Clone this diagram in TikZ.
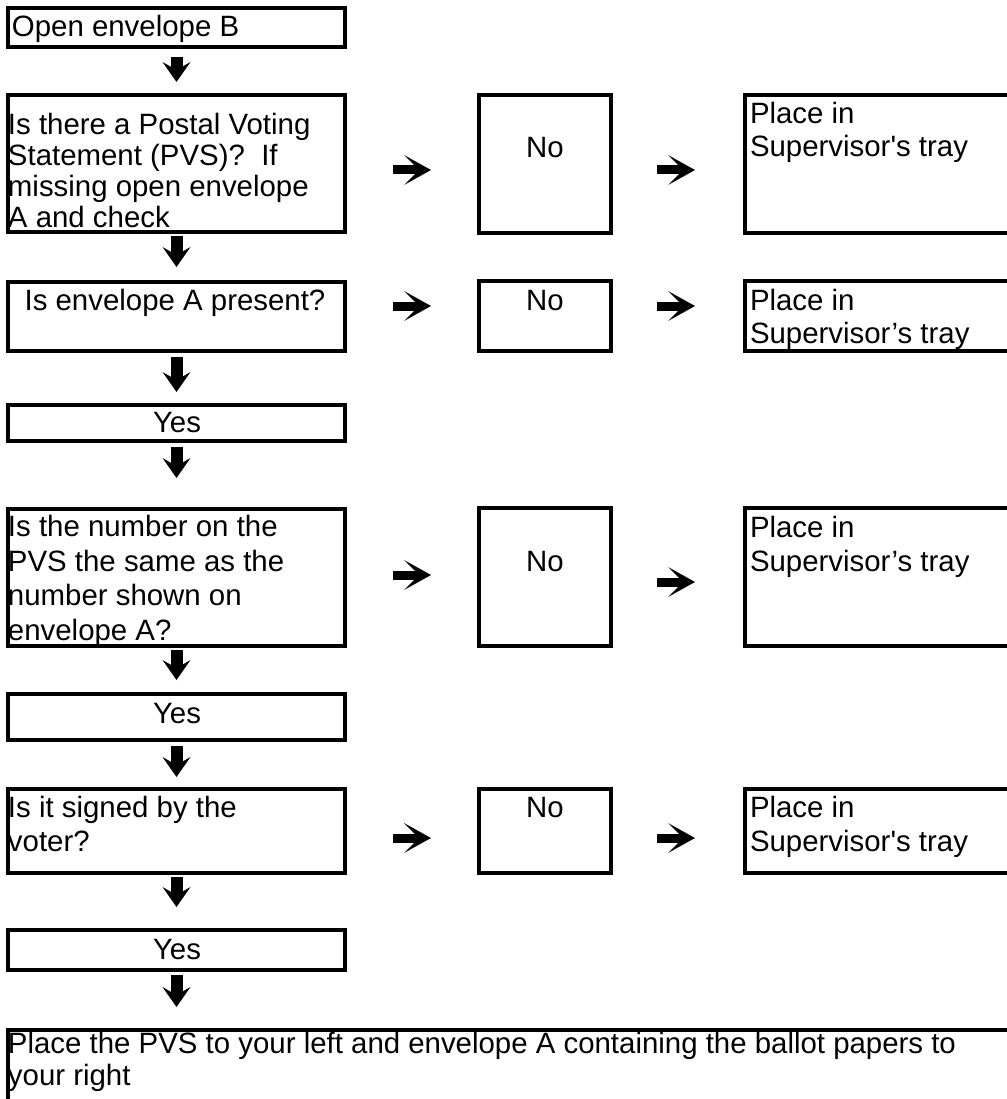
\documentclass[tikz,border=0pt]{standalone}
\usepackage{fontspec}
\setmainfont{Liberation Sans}[Ligatures=TeXOff]
\usetikzlibrary{arrows.meta}
\begin{document}
\begin{tikzpicture}[x=1pt,y=-1pt,
  box/.style={draw, line width=4pt, rectangle, inner sep=0pt, outer sep=0pt, anchor=north west},
  lbl/.style={inner sep=0pt, outer sep=0pt, align=left, anchor=base west, font=\fontsize{29.4}{31}\selectfont},
  ctr/.style={inner sep=0pt, outer sep=0pt, anchor=base, font=\fontsize{29.4}{31}\selectfont},
  rarr/.style={line width=9pt, -{Stealth[length=27pt,width=30pt,inset=15pt,line width=0pt]}},
  darr/.style={line width=12pt, -{Stealth[length=20pt,width=28pt,inset=8pt,line width=0pt]}}]
\useasboundingbox (0,0) rectangle (1006,1099);
% left column boxes
\node[box, minimum width=337pt, minimum height=39pt]  (b1) at (8,8) {};
\node[box, minimum width=337pt, minimum height=137pt] (b2) at (8,95) {};
\node[box, minimum width=337pt, minimum height=69pt]  (b3) at (8,282) {};
\node[box, minimum width=337pt, minimum height=36pt]  (b4) at (8,405) {};
\node[box, minimum width=337pt, minimum height=137pt] (b5) at (8,509) {};
\node[box, minimum width=337pt, minimum height=46pt]  (b6) at (8,694) {};
\node[box, minimum width=337pt, minimum height=84pt]  (b7) at (8,789) {};
\node[box, minimum width=337pt, minimum height=40pt]  (b8) at (8,930) {};
\node[box, minimum width=1004pt, minimum height=80pt] (b9) at (8,1030) {};
% No boxes
\node[box, minimum width=132pt, minimum height=138pt] (n1) at (479,95) {};
\node[box, minimum width=132pt, minimum height=70pt]  (n2) at (479,281) {};
\node[box, minimum width=132pt, minimum height=138pt] (n3) at (479,508) {};
\node[box, minimum width=132pt, minimum height=84pt]  (n4) at (479,789) {};
% Supervisor boxes
\node[box, minimum width=267pt, minimum height=138pt] (p1) at (745,95) {};
\node[box, minimum width=267pt, minimum height=70pt]  (p2) at (745,281) {};
\node[box, minimum width=267pt, minimum height=138pt] (p3) at (745,508) {};
\node[box, minimum width=267pt, minimum height=84pt]  (p4) at (745,789) {};
% texts (multi-line nodes are anchored at the baseline of their last line)
\node[lbl] (t1) at (12,37) {Open envelope B};
\node[lbl] (t2) at (8,228) {Is there a Postal Voting\\Statement (PVS)?~ If\\missing open envelope\\A and check};
\node[ctr] (t3) at (175,310) {Is envelope A present?};
\node[ctr] (t4) at (177,432) {Yes};
\node[lbl, font=\fontsize{29.4}{34.5}\selectfont] (t5) at (8,640) {Is the number on the\\PVS the same as the\\number shown on\\envelope A?};
\node[ctr] (t6) at (177,723) {Yes};
\node[lbl, font=\fontsize{29.4}{34}\selectfont] (t7) at (8,851) {Is it signed by the\\voter?};
\node[ctr] (t8) at (177,959) {Yes};
\node[lbl, font=\fontsize{29.4}{32}\selectfont] (t9) at (8,1085) {Place the PVS to your left and envelope A containing the ballot papers to\\your right};
\node[ctr] (n1t) at (545,158) {No};
\node[ctr] (n2t) at (545,310) {No};
\node[ctr] (n3t) at (545,571) {No};
\node[ctr] (n4t) at (545,817) {No};
\node[lbl, font=\fontsize{29.4}{33}\selectfont] (p1t) at (750,157) {Place in\\Supervisor's tray};
\node[lbl, font=\fontsize{29.4}{33}\selectfont] (p2t) at (750,343) {Place in\\Supervisor’s tray};
\node[lbl, font=\fontsize{29.4}{34}\selectfont] (p3t) at (750,571) {Place in\\Supervisor’s tray};
\node[lbl, font=\fontsize{29.4}{34}\selectfont] (p4t) at (750,851) {Place in\\Supervisor's tray};
% row levels
\coordinate (r1) at (0,170);
\coordinate (r2) at (0,306);
\coordinate (r3a) at (0,575);
\coordinate (r3b) at (0,582);
\coordinate (r4) at (0,838);
% down arrows
\draw[darr, shorten <=10pt, shorten >=13pt] (b1.south) -- (b2.north);
\draw[darr, shorten <=4pt, shorten >=15pt] (b2.south) -- (b3.north);
\draw[darr, shorten <=6pt, shorten >=13pt] (b3.south) -- (b4.north);
\draw[darr, shorten <=6pt, shorten >=31pt] (b4.south) -- (b5.north);
\draw[darr, shorten <=4pt, shorten >=14pt] (b5.south) -- (b6.north);
\draw[darr, shorten <=6pt, shorten >=12pt] (b6.south) -- (b7.north);
\draw[darr, shorten <=4pt, shorten >=23pt] (b7.south) -- (b8.north);
\draw[darr, shorten <=5pt, shorten >=23pt] (b8.south) -- (b8.south |- b9.north);
% right arrows
\draw[rarr, shorten <=48pt, shorten >=48pt] (b2.east |- r1) -- (n1.west |- r1);
\draw[rarr, shorten <=46pt, shorten >=50pt] (n1.east |- r1) -- (p1.west |- r1);
\draw[rarr, shorten <=48pt, shorten >=48pt] (b3.east |- r2) -- (n2.west |- r2);
\draw[rarr, shorten <=46pt, shorten >=50pt] (n2.east |- r2) -- (p2.west |- r2);
\draw[rarr, shorten <=48pt, shorten >=48pt] (b5.east |- r3a) -- (n3.west |- r3a);
\draw[rarr, shorten <=46pt, shorten >=50pt] (n3.east |- r3b) -- (p3.west |- r3b);
\draw[rarr, shorten <=48pt, shorten >=48pt] (b7.east |- r4) -- (n4.west |- r4);
\draw[rarr, shorten <=46pt, shorten >=50pt] (n4.east |- r4) -- (p4.west |- r4);
\end{tikzpicture}
\end{document}
